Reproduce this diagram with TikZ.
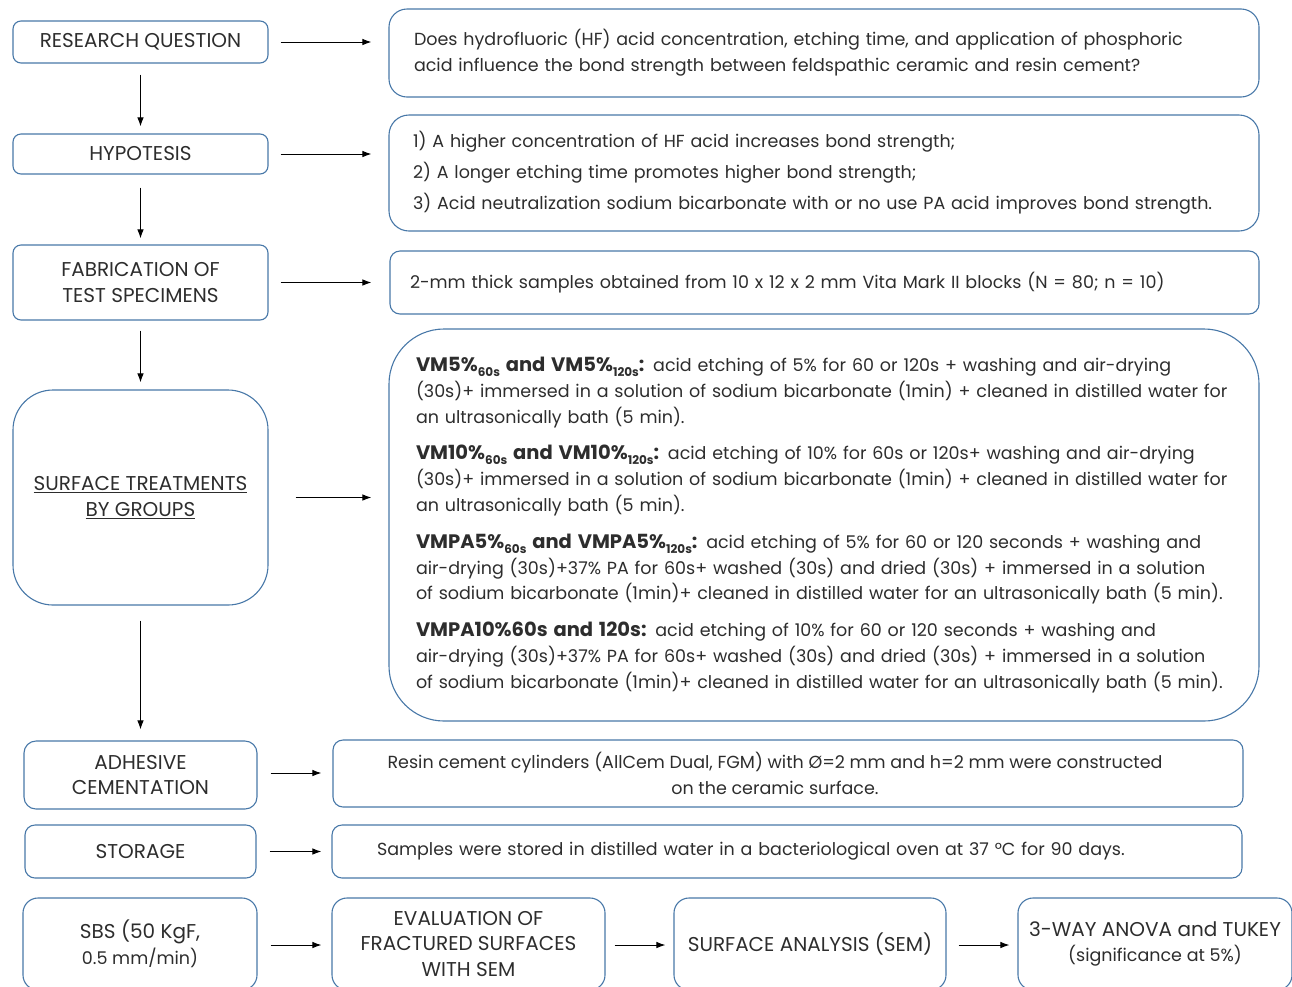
\documentclass[tikz,border=0pt]{standalone}
\usepackage{fontspec}
\setmainfont{Poppins}
\usetikzlibrary{arrows.meta}
\definecolor{boxblue}{RGB}{72,120,168}
\definecolor{txt}{RGB}{45,45,45}
\newcommand\lowsub[1]{\raisebox{-0.45ex}{\fontsize{12}{12}\selectfont #1}}
\newcommand\hd[1]{{\fontsize{19.5}{25.8}\selectfont\bfseries #1}}
\newcommand\sm[1]{{\fontsize{17.5}{25.8}\selectfont #1}}
\begin{document}
\begin{tikzpicture}[x=1pt,y=-1pt,
  font=\fontsize{17.5}{25.8}\selectfont, text=txt,
  box/.style={draw=boxblue, line width=1.1pt, align=center, inner sep=0pt},
  captxt/.style={font=\fontsize{20}{25.8}\selectfont},
  arr/.style={-{Latex[length=9pt,width=6.5pt]}, line width=1pt, black},
]
\useasboundingbox (0,0) rectangle (1292,986);
\clip (0,0) rectangle (1292,986);
% left column
\node[box, captxt, rounded corners=8pt, minimum width=255pt, minimum height=42pt] (rqL) at (140.5,42) {RESEARCH QUESTION};
\node[box, captxt, rounded corners=8pt, minimum width=255pt, minimum height=40pt] (hypL) at (140.5,154) {HYPOTESIS};
\node[box, captxt, rounded corners=8pt, minimum width=255pt, minimum height=75pt] (fabL) at (140.5,282.5) {FABRICATION OF\\TEST SPECIMENS};
\node[box, captxt, rounded corners=40pt, minimum width=255pt, minimum height=215pt] (surfL) at (140.5,497.5) {\underline{SURFACE TREATMENTS}\\\underline{BY GROUPS}};
\node[box, captxt, rounded corners=12pt, minimum width=233pt, minimum height=68pt] (adhL) at (140.5,775) {ADHESIVE\\CEMENTATION};
\node[box, captxt, rounded corners=10pt, minimum width=231pt, minimum height=53pt] (storL) at (140.5,851.5) {STORAGE};
\node[box, captxt, rounded corners=15pt, minimum width=234pt, minimum height=92pt] (sbs) at (140,944) {SBS (50 KgF,\\\sm{0.5 mm/min)}};
% right column
\node[box, rounded corners=18pt, text width=820pt, inner xsep=25pt, minimum height=88pt, align=left] (rqR) at (824,53)
 {Does hydrofluoric (HF) acid concentration, etching time, and application of phosphoric\\acid influence the bond strength between feldspathic ceramic and resin cement?};
\node[box, rounded corners=20pt, text width=822pt, inner xsep=24pt, minimum height=116pt, align=left, font=\fontsize{17.5}{31}\selectfont] (hypR) at (824,173)
 {1) A higher concentration of HF acid increases bond strength;\\2) A longer etching time promotes higher bond strength;\\3) Acid neutralization sodium bicarbonate with or no use PA acid improves bond strength.};
\node[box, rounded corners=10pt, text width=829pt, inner xsep=20pt, minimum height=63pt, align=left] (fabR) at (824.5,282.5)
 {2-mm thick samples obtained from 10 x 12 x 2 mm Vita Mark II blocks (N = 80; n = 10)};
\node[box, rounded corners=55pt, text width=816pt, inner xsep=27pt, minimum height=392pt, align=left] (surfR) at (824,525)
 {\hd{VM5\%\lowsub{60s} and VM5\%\lowsub{120s}:} acid etching of 5\% for 60 or 120s + washing and air-drying\\
 (30s)+ immersed in a solution of sodium bicarbonate (1min) + cleaned in distilled water for\\
 an ultrasonically bath (5 min).\\[11pt]
 \hd{VM10\%\lowsub{60s} and VM10\%\lowsub{120s}:} acid etching of 10\% for 60s or 120s+ washing and air-drying\\
 (30s)+ immersed in a solution of sodium bicarbonate (1min) + cleaned in distilled water for\\
 an ultrasonically bath (5 min).\\[11pt]
 \hd{VMPA5\%\lowsub{60s} and VMPA5\%\lowsub{120s}:} acid etching of 5\% for 60 or 120 seconds + washing and\\
 air-drying (30s)+37\% PA for 60s+ washed (30s) and dried (30s) + immersed in a solution\\
 of sodium bicarbonate (1min)+ cleaned in distilled water for an ultrasonically bath (5 min).\\[11pt]
 \hd{VMPA10\%60s and 120s:} acid etching of 10\% for 60 or 120 seconds + washing and\\
 air-drying (30s)+37\% PA for 60s+ washed (30s) and dried (30s) + immersed in a solution\\
 of sodium bicarbonate (1min)+ cleaned in distilled water for an ultrasonically bath (5 min).};
\node[box, rounded corners=10pt, minimum width=910pt, minimum height=67pt] (adhR) at (788,773.5)
 {Resin cement cylinders (AllCem Dual, FGM) with Ø=2 mm and h=2 mm were constructed\hspace*{26pt}\\on the ceramic surface.\hspace*{26pt}};
\node[box, rounded corners=10pt, text width=820pt, inner xsep=45pt, minimum height=53pt, align=left] (storR) at (787,851.5)
 {Samples were stored in distilled water in a bacteriological oven at 37 °C for 90 days.};
\node[box, captxt, rounded corners=15pt, minimum width=273pt, minimum height=92pt] (eval) at (468.5,944) {EVALUATION OF\\FRACTURED SURFACES\\WITH SEM};
\node[box, captxt, rounded corners=15pt, minimum width=272pt, minimum height=92pt] (sem) at (810,944) {SURFACE ANALYSIS (SEM)};
\node[box, captxt, rounded corners=15pt, minimum width=274pt, minimum height=92pt] (anova) at (1155,944) {3-WAY ANOVA and TUKEY\\\sm{(significance at 5\%)}};
% horizontal arrows
\draw[arr, shorten <=12pt, shorten >=17pt] (rqL.east) -- (rqL.east -| rqR.west);
\draw[arr, shorten <=12pt, shorten >=17pt] (hypL.east) -- (hypL.east -| hypR.west);
\draw[arr, shorten <=12pt, shorten >=18pt] (fabL.east) -- (fabL.east -| fabR.west);
\draw[arr, shorten <=27pt, shorten >=17pt] (surfL.east) -- (surfL.east -| surfR.west);
\draw[arr, shorten <=13pt, shorten >=11pt] ([yshift=2pt]adhL.east) -- ([yshift=2pt]adhL.east -| adhR.west);
\draw[arr, shorten <=13pt, shorten >=10pt] (storL.east) -- (storL.east -| storR.west);
\draw[arr, shorten <=13pt, shorten >=10pt] ([yshift=-1pt]sbs.east) -- ([yshift=-1pt]sbs.east -| eval.west);
\draw[arr, shorten <=9pt, shorten >=8pt] ([yshift=-1pt]eval.east) -- ([yshift=-1pt]eval.east -| sem.west);
\draw[arr, shorten <=12pt, shorten >=8pt] ([yshift=-1pt]sem.east) -- ([yshift=-1pt]sem.east -| anova.west);
% vertical arrows
\draw[arr, shorten <=11pt, shorten >=7pt] (rqL.south) -- (hypL.north);
\draw[arr, shorten <=13pt, shorten >=6pt] (hypL.south) -- (fabL.north);
\draw[arr, shorten <=10pt, shorten >=7pt] (fabL.south) -- (surfL.north);
\draw[arr, shorten <=15pt, shorten >=11pt] (surfL.south) -- (adhL.north);
\end{tikzpicture}
\end{document}
